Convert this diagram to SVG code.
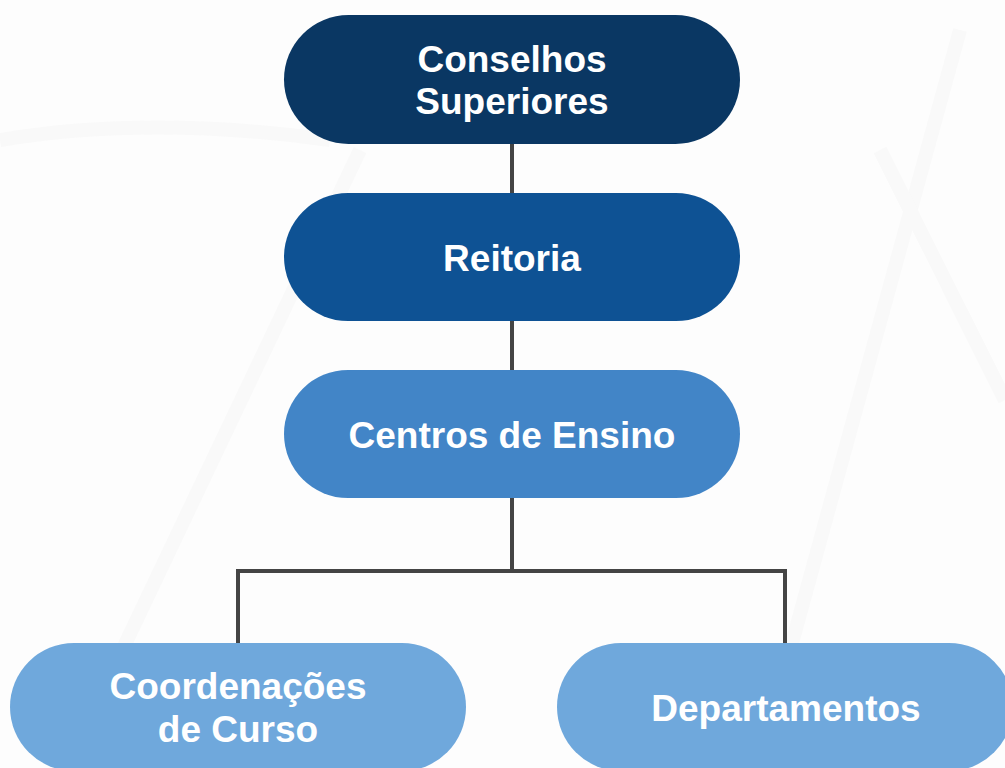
<svg xmlns="http://www.w3.org/2000/svg" width="1005" height="768" viewBox="0 0 1005 768">
<style>
.lbl{font-family:"Liberation Sans",Arial,Helvetica,sans-serif;font-weight:bold;font-size:37px;fill:#ffffff;text-anchor:middle}
.conn{fill:none;stroke:#444444;stroke-width:4;stroke-linejoin:miter;stroke-linecap:butt}
</style>
<rect x="0" y="0" width="1005" height="768" fill="#fdfdfd"/>
<g id="background" fill="none" stroke="#f9f9f9" stroke-width="14">
<path d="M70 760 L360 150"/>
<path d="M760 760 L960 30"/>
<path d="M880 150 L1005 400"/>
<path d="M0 140 Q150 115 330 140"/>
</g>
<g id="connectors">
<path class="conn" d="M512 144 V193"/>
<path class="conn" d="M512 321 V370"/>
<path class="conn" d="M512 498 V571 M238 643 V571 H785 V643"/>
</g>
<g id="n1">
<rect x="284" y="15" width="456" height="129" rx="64.5" fill="#0a3763"/>
<text class="lbl" x="512" y="72">Conselhos</text>
<text class="lbl" x="512" y="114">Superiores</text>
</g>
<g id="n2">
<rect x="284" y="193" width="456" height="128" rx="64" fill="#0e5294"/>
<text class="lbl" x="512" y="271">Reitoria</text>
</g>
<g id="n3">
<rect x="284" y="370" width="456" height="128" rx="64" fill="#4285c7"/>
<text class="lbl" x="512" y="448">Centros de Ensino</text>
</g>
<g id="n4">
<rect x="10" y="643" width="456" height="128" rx="64" fill="#6fa8dc"/>
<text class="lbl" x="238" y="699">Coordenações</text>
<text class="lbl" x="238" y="742">de Curso</text>
</g>
<g id="n5">
<rect x="557" y="643" width="456" height="128" rx="64" fill="#6fa8dc"/>
<text class="lbl" x="786" y="721">Departamentos</text>
</g>
</svg>
